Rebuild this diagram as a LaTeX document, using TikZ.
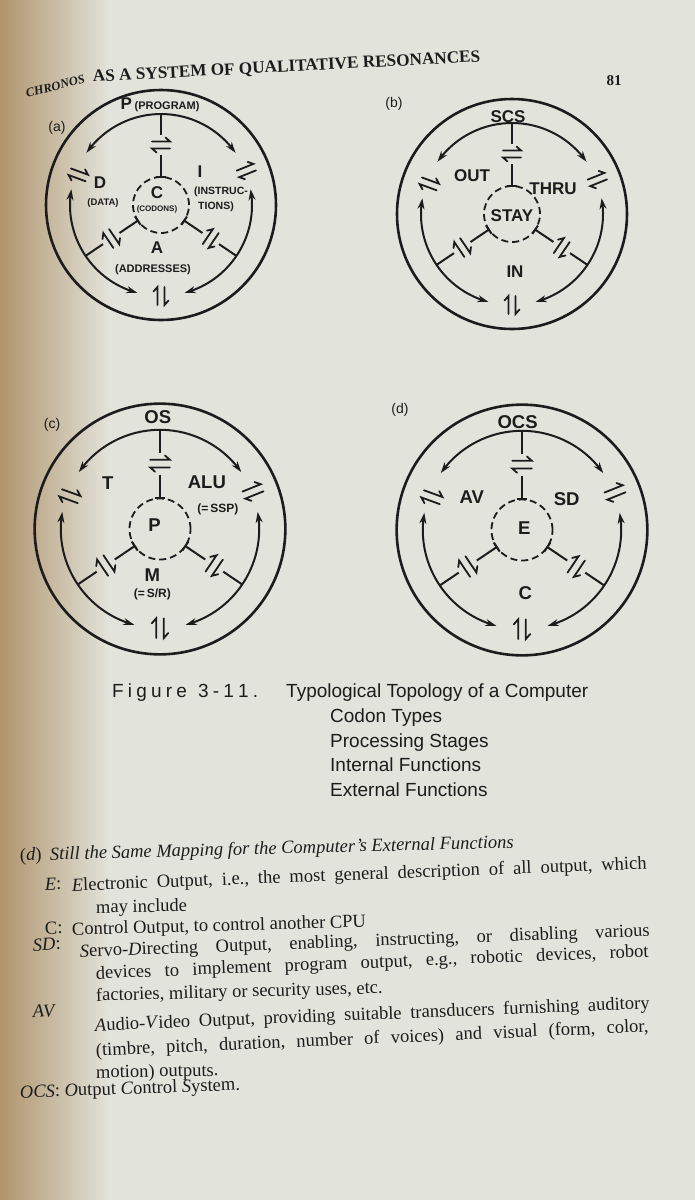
\documentclass[tikz,border=0pt]{standalone}
\usepackage{fontspec}
\setmainfont{Liberation Serif}
\setsansfont{Liberation Sans}
\usetikzlibrary{arrows.meta,calc,bending}

\definecolor{paper}{RGB}{226,228,220}
\definecolor{gutter}{RGB}{176,148,108}
\definecolor{ink}{RGB}{28,28,28}

\newcommand\labbig{\sffamily\bfseries\fontsize{17}{17}\selectfont}
\newcommand\labsml{\sffamily\bfseries\fontsize{11}{11}\selectfont}
\newcommand\labtiny{\sffamily\bfseries\fontsize{8}{8}\selectfont}

\tikzset{
  outer/.style={draw=ink, line width=2.6pt},
  ringarc/.style={draw=ink, line width=2pt,
    {Stealth[length=11pt,width=7pt,flex]}-{Stealth[length=11pt,width=7pt,flex]}},
  spoke/.style={draw=ink, line width=2pt},
  dashcirc/.style={draw=ink, line width=1.8pt, dash pattern=on 7pt off 4pt},
  symline/.style={draw=ink, line width=1.8pt, line cap=round, line join=miter},
  biglab/.style={font=\labbig, text=ink, inner sep=0pt},
  smllab/.style={font=\labsml, text=ink, inner sep=0pt},
  tinylab/.style={font=\labtiny, text=ink, inner sep=0pt},
  panellab/.style={font=\sffamily\fontsize{14}{14}\selectfont, text=ink, inner sep=0pt},
  captxt/.style={font=\sffamily\fontsize{19}{19}\selectfont, text=ink, inner sep=0pt, anchor=base west},
  bodytxt/.style={font=\frenchspacing\fontsize{18.5}{21}\selectfont, text=ink, inner sep=0pt, anchor=base west},
  eqsym/.pic={
    \draw[symline] (-9,3.5) -- (9,3.5) -- (4.5,7.5);
    \draw[symline] (9,-3.5) -- (-9,-3.5) -- (-4.5,-7.5);
  },
}

\newcommand\ringskel[1]{%
  \coordinate (#1-c) at (0,0);
  \draw[outer] (#1-c) circle[radius=115];
  \draw[dashcirc] (#1-c) circle[radius=28];
  \draw[ringarc] (145:91) arc[start angle=145,end angle=35,radius=91];
  \draw[ringarc] (170:91) arc[start angle=170,end angle=255,radius=91];
  \draw[ringarc] (285:91) arc[start angle=285,end angle=370,radius=91];
  \pic[rotate=160, transform shape] at (160:88) {eqsym};
  \pic[rotate=22, transform shape] at (22:92) {eqsym};
  \pic[rotate=270, transform shape] at (270:91) {eqsym};
  \foreach \a in {90,214,326}{
    \begin{scope}[rotate=\a-90, transform shape]
      \draw[spoke] (0,91) -- (0,70);
      \pic[transform shape] at (0,60) {eqsym};
      \draw[spoke] (0,50) -- (0,28);
      \draw[spoke] (-5,28) -- (5,28);
    \end{scope}
  }
}

\begin{document}
\begin{tikzpicture}[x=1pt,y=1pt]
\useasboundingbox (0,0) rectangle (695,-1200);
\fill[paper] (0,0) rectangle (695,-1200);
\shade[left color=gutter, right color=paper] (0,0) rectangle (110,-1200);

% header
\node[font=\bfseries\itshape\fontsize{12.5}{12.5}\selectfont, text=ink, inner sep=0pt, anchor=base west, rotate=15] (hd1) at (27,-98) {CHRONOS};
\node[font=\bfseries\fontsize{17.2}{17.2}\selectfont, text=ink, inner sep=0pt, anchor=base west, rotate=3] (hd2) at (93,-82) {AS A SYSTEM OF QUALITATIVE RESONANCES};
\node[font=\bfseries\fontsize{15}{15}\selectfont, text=ink, inner sep=0pt] (pg) at (614,-81) {81};

% panel labels
\node[panellab] (la) at (57,-128) {(a)};
\node[panellab] (lb) at (394,-104) {(b)};
\node[panellab] (lc) at (52,-425) {(c)};
\node[panellab] (ld) at (400,-410) {(d)};

% (a)
\begin{scope}[shift={(161,-205)}, transform shape]
  \ringskel{A}
  \node[biglab] (a-p) at (-1,100) {P\,{\labsml (PROGRAM)}};
  \node[biglab] (a-d) at (-61,22) {D};
  \node[font=\sffamily\bfseries\fontsize{9.5}{9.5}\selectfont, text=ink, inner sep=0pt] (a-data) at (-58,2) {(DATA)};
  \node[biglab] (a-c) at (-4,12) {C};
  \node[tinylab] (a-cod) at (-4,-4) {(CODONS)};
  \node[biglab] (a-i) at (39,33) {I};
  \node[font=\sffamily\bfseries\fontsize{10.5}{10.5}\selectfont, text=ink, inner sep=0pt] (a-ins) at (60,13) {(INSTRUC-};
  \node[font=\sffamily\bfseries\fontsize{10.5}{10.5}\selectfont, text=ink, inner sep=0pt] (a-tio) at (55,-2) {TIONS)};
  \node[biglab] (a-a) at (-4,-43) {A};
  \node[smllab] (a-add) at (-8,-65) {(ADDRESSES)};
\end{scope}

% (b)
\begin{scope}[shift={(512,-214)}, transform shape]
  \ringskel{B}
  \node[biglab] (b-scs) at (-4,97) {SCS};
  \node[biglab] (b-out) at (-40,38) {OUT};
  \node[biglab] (b-thru) at (41,25) {THRU};
  \node[biglab] (b-stay) at (0,-2) {STAY};
  \node[biglab] (b-in) at (3,-58) {IN};
\end{scope}

% (c)
\begin{scope}[shift={(160,-529)}, scale=1.09, transform shape]
  \ringskel{Cc}
  \node[biglab] (c-os) at (-2,103) {OS};
  \node[biglab] (c-t) at (-48,42) {T};
  \node[biglab] (c-alu) at (43,43) {ALU};
  \node[smllab] (c-ssp) at (53,18) {(=\,SSP)};
  \node[biglab] (c-p) at (-5,4) {P};
  \node[biglab] (c-m) at (-7,-42) {M};
  \node[smllab] (c-sr) at (-7,-60) {(=\,S/R)};
\end{scope}

% (d)
\begin{scope}[shift={(522,-530)}, scale=1.09, transform shape]
  \ringskel{Dd}
  \node[biglab] (d-ocs) at (-4,99) {OCS};
  \node[biglab] (d-av) at (-46,30) {AV};
  \node[biglab] (d-sd) at (41,28) {SD};
  \node[biglab] (d-e) at (2,2) {E};
  \node[biglab] (d-c) at (3,-58) {C};
\end{scope}

% caption
\node[captxt] (cap0) at (112,-697) {\makebox[146pt][s]{F\hfil i\hfil g\hfil u\hfil r\hfil e\hspace{7pt plus 1fil}3\hfil -\hfil 1\hfil 1\hfil .}};
\node[captxt] (cap1) at (286,-697) {Typological Topology of a Computer};
\node[captxt] (cap2) at (330,-722) {Codon Types};
\node[captxt] (cap3) at (330,-747) {Processing Stages};
\node[captxt] (cap4) at (330,-771) {Internal Functions};
\node[captxt] (cap5) at (330,-796) {External Functions};

% body text
\node[bodytxt, rotate=2] (t0k) at (20,-861) {(\textit{d})};
\node[bodytxt, rotate=1.5] (t0) at (50,-860) {\textit{Still the Same Mapping for the Computer's External Functions}};
\node[bodytxt, rotate=2] (t1k) at (45,-890) {\textit{E}:};
\node[bodytxt, rotate=2.2] (t1) at (72,-891) {\makebox[575pt][s]{\textit{E}lectronic Output, i.e., the most general description of all output, which}};
\node[bodytxt, rotate=1] (t2) at (96,-913) {may include};
\node[bodytxt, rotate=2] (t3k) at (45,-934) {C:};
\node[bodytxt, rotate=1.5] (t3) at (72,-935) {Control Output, to control another CPU};
\node[bodytxt, rotate=3] (t4k) at (33,-951) {\textit{SD}:};
\node[bodytxt, rotate=2.1] (t4) at (80,-957) {\makebox[570pt][s]{\textit{S}ervo-\textit{D}irecting Output, enabling, instructing, or disabling various}};
\node[bodytxt, rotate=2.3] (t5) at (96,-979) {\makebox[553pt][s]{devices to implement program output, e.g., robotic devices, robot}};
\node[bodytxt, rotate=1.5] (t6) at (96,-1001) {factories, military or security uses, etc.};
\node[bodytxt, rotate=4] (t7k) at (33,-1018) {\textit{AV}};
\node[bodytxt, rotate=2.3] (t7) at (95,-1031) {\makebox[555pt][s]{\textit{A}udio-\textit{V}ideo Output, providing suitable transducers furnishing auditory}};
\node[bodytxt, rotate=2.5] (t8) at (96,-1056) {\makebox[553pt][s]{(timbre, pitch, duration, number of voices) and visual (form, color,}};
\node[bodytxt, rotate=1] (t9) at (96,-1078) {motion) outputs.};
\node[bodytxt, rotate=2] (t10) at (20,-1098) {\textit{OCS}: \textit{O}utput \textit{C}ontrol \textit{S}ystem.};
\end{tikzpicture}
\end{document}
